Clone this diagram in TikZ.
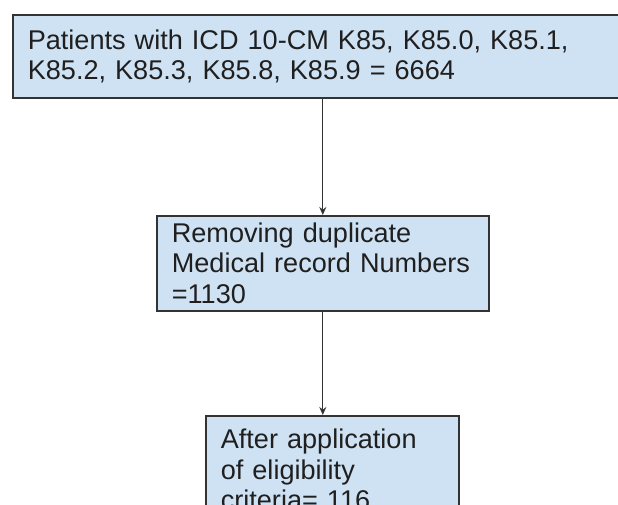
\documentclass[tikz,border=0pt]{standalone}
\usepackage{fontspec}
\setmainfont{Liberation Sans}
\usetikzlibrary{arrows.meta}
\definecolor{boxfill}{HTML}{CFE2F3}
\definecolor{boxline}{HTML}{333333}
\begin{document}
\begin{tikzpicture}[x=1pt,y=-1pt,
  flowbox/.style={draw=boxline,line width=1.6pt,fill=boxfill,rectangle,anchor=north west,
    align=left,inner xsep=15pt,inner ysep=0pt,text=black!88,
    font=\fontsize{27.1}{30.5}\selectfont},
  flowarrow/.style={draw=black!80,line width=1.3pt,-{Stealth[length=8pt,width=7pt]}}]
\clip (0,0) rectangle (618,504);
\fill[white] (0,0) rectangle (618,504);
\node[flowbox,text width=620pt-30pt,minimum width=620pt,minimum height=83pt] (b1) at (12,14)
  {Patients with ICD 10-CM K85, K85.0, K85.1,\\K85.2, K85.3, K85.8, K85.9 = 6664};
\node[flowbox,text width=332pt-30pt,minimum width=332pt,minimum height=95pt] (b2) at (156,215)
  {Removing duplicate\\Medical record Numbers\\=1130};
\node[flowbox,text width=253pt-30pt,minimum width=253pt,minimum height=108pt,inner xsep=14pt] (b3) at (205,415)
  {After application\\of eligibility\\criteria= 116};
\draw[flowarrow] (b1.south) -- (b2.north);
\draw[flowarrow] (b2.south) -- (b2.south |- b3.north);
\end{tikzpicture}
\end{document}
